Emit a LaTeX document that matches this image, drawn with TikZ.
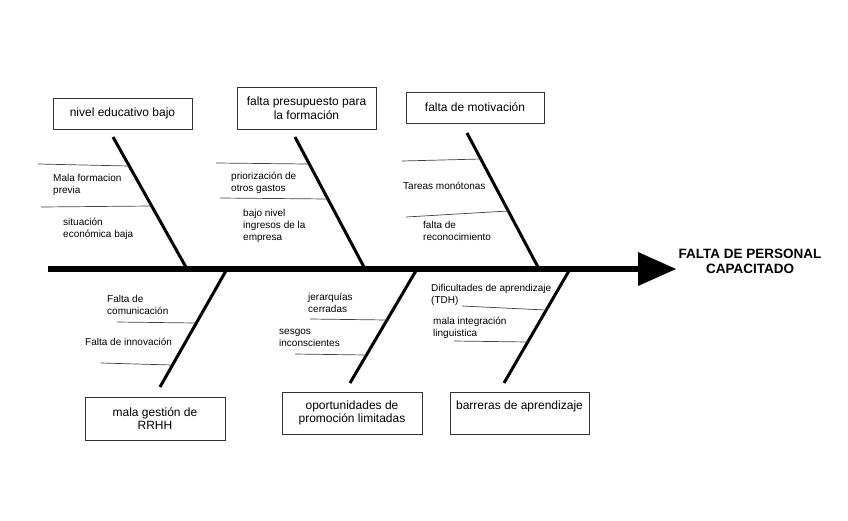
\documentclass[tikz,border=0pt]{standalone}
\usepackage{fontspec}
\setmainfont{Liberation Sans}
\begin{document}
\begin{tikzpicture}[x=1pt, y=-1pt,
    cause/.style={draw=black!80, line width=0.8pt, align=center, inner sep=0pt, font=\fontsize{12}{13.5}\selectfont},
    bone/.style={line width=3pt},
    rib/.style={line width=0.7pt, black!75},
    lbl/.style={anchor=west, align=left, inner sep=0pt, font=\fontsize{10}{12}\selectfont}]
    \useasboundingbox (0,0) rectangle (848,520);

    % spine
    \coordinate (tail) at (48,269);
    \coordinate (head) at (638,269);
    \coordinate (tip) at (676,269);
    \draw[line width=6pt] (tail) -- (head);
    \fill (638,252) -- (tip) -- (638,286) -- cycle;
    \node[font=\fontsize{13.5}{15}\selectfont\bfseries, align=center] (effect) at (750,261) {FALTA DE PERSONAL\\CAPACITADO};

    % causes
    \node[cause, minimum width=139pt, minimum height=31pt] (edu) at (122.5,113.5) {nivel educativo bajo};
    \node[cause, minimum width=139pt, minimum height=42pt] (pres) at (306.5,108) {falta presupuesto para\\la formación};
    \node[cause, minimum width=138pt, minimum height=31pt] (moti) at (475,107.5) {falta de motivación};
    \node[cause, minimum width=140pt, minimum height=43pt] (rrhh) at (155,418.5) {mala gestión de\\RRHH};
    \node[cause, minimum width=140pt, minimum height=42pt] (promo) at (352,413) {oportunidades de\\promoción limitadas};
    \node[cause, minimum width=139pt, text height=17.5pt, text depth=24.5pt, anchor=base] (apren) at (519.5,409.5) {barreras de aprendizaje};

    % bones
    \coordinate (edu top) at (113,137);   \coordinate (edu j) at (187,269);
    \coordinate (pres top) at (295,137);  \coordinate (pres j) at (365,269);
    \coordinate (moti top) at (467,133);  \coordinate (moti j) at (539,269);
    \coordinate (rrhh top) at (160,387);  \coordinate (rrhh j) at (227,269);
    \coordinate (promo top) at (350,383); \coordinate (promo j) at (417,269);
    \coordinate (apren top) at (504,383); \coordinate (apren j) at (570,269);
    \draw[bone] (edu top) -- (edu j);
    \draw[bone] (pres top) -- (pres j);
    \draw[bone] (moti top) -- (moti j);
    \draw[bone] (rrhh top) -- (rrhh j);
    \draw[bone] (promo top) -- (promo j);
    \draw[bone] (apren top) -- (apren j);

    % ribs
    \draw[rib] (38,164) -- (129,166);
    \draw[rib] (41,207) -- (151,206);
    \draw[rib] (216,163) -- (308,164);
    \draw[rib] (220,198) -- (328,199);
    \draw[rib] (402,161) -- (481,159);
    \draw[rib] (406,217) -- (508,211);
    \draw[rib] (117,322) -- (196,323);
    \draw[rib] (101,363) -- (172,365);
    \draw[rib] (310,319) -- (387,320);
    \draw[rib] (295,354) -- (366,355);
    \draw[rib] (462,306) -- (546,310);
    \draw[rib] (454,341) -- (528,342);

    % labels
    \node[lbl] (l11) at (53,185) {Mala formacion\\previa};
    \node[lbl] (l12) at (63,229) {situación\\económica baja};
    \node[lbl] (l21) at (231,182.5) {priorización de\\otros gastos};
    \node[lbl] (l22) at (243,226) {bajo nivel\\ingresos de la\\empresa};
    \node[lbl] (l31) at (403,186) {Tareas monótonas};
    \node[lbl] (l32) at (423,230.5) {falta de\\reconocimiento};
    \node[lbl] (l41) at (107,305) {Falta de\\comunicación};
    \node[lbl] (l42) at (85,342) {Falta de innovación};
    \node[lbl] (l51) at (308,303) {jerarquías\\cerradas};
    \node[lbl] (l52) at (279,338) {sesgos\\inconscientes};
    \node[lbl] (l61) at (431,294.5) {Dificultades de aprendizaje\\(TDH)};
    \node[lbl] (l62) at (433,327.5) {mala integración\\linguistica};
\end{tikzpicture}
\end{document}
